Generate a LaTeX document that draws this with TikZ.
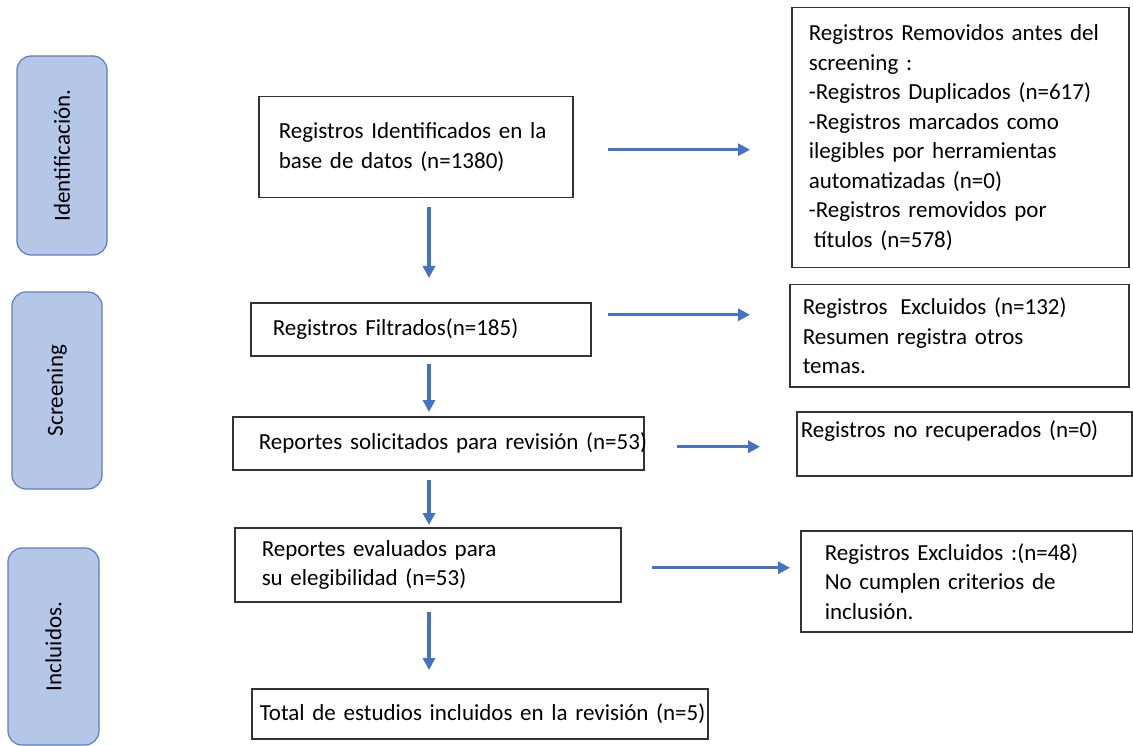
\documentclass[tikz,border=0pt]{standalone}
\usepackage{fontspec}
\setmainfont{Carlito}
\usetikzlibrary{arrows.meta,positioning}
\definecolor{flowblue}{HTML}{4472C4}
\definecolor{phasefill}{HTML}{B4C7E7}
\definecolor{phaseline}{HTML}{5A7EBE}
\tikzset{
  box/.style={draw=black!80, line width=1.5pt, align=left, anchor=north west, inner ysep=0pt,
    font=\fontsize{23}{29.5}\selectfont},
  phase/.style={draw=phaseline, fill=phasefill, line width=1.2pt, rounded corners=14pt, rotate=90,
    inner sep=0pt, font=\fontsize{23}{29.5}\selectfont},
  arr/.style={-{Triangle[length=12pt,width=12pt]}, line width=3.2pt, draw=flowblue}
}

\begin{document}
\begin{tikzpicture}[x=1pt, y=-1pt]
\useasboundingbox (0,0) rectangle (1133,746);
% phases
\node[phase, minimum width=199pt, minimum height=90pt] (idph) at (62,155.5) {Identificación.};
\node[phase, minimum width=197pt, minimum height=90pt] (scrph) at (57,390.5) {Screening};
\node[phase, minimum width=197pt, minimum height=91pt] (incph) at (53.5,646.5) {Incluidos.};
% main flow
\node[box, text width=274pt, inner xsep=20pt, minimum height=101pt] (ident) at (258,96)
  {Registros Identificados en la\\base de datos (n=1380)};
\node[box, text width=296pt, inner xsep=22pt, minimum height=53pt] (filt) at (250,302)
  {Registros Filtrados(n=185)};
\node[box, text width=359pt, inner xsep=26pt, minimum height=53pt] (solic) at (232,416)
  {\mbox{Reportes solicitados para revisión (n=53)}};
\node[box, text width=332pt, inner xsep=27pt, minimum height=74pt] (eval) at (234,527)
  {Reportes evaluados para\\su elegibilidad (n=53)};
\node[box, text width=440pt, inner xsep=8pt, minimum height=50pt] (total) at (251,688)
  {\mbox{Total de estudios incluidos en la revisión (n=5)}};
% exclusions
\node[box, text width=303pt, inner xsep=17pt, minimum height=260pt] (remov) at (791,7)
  {Registros Removidos antes del\\screening :\\-Registros Duplicados (n=617)\\-Registros marcados como\\ilegibles por herramientas\\automatizadas (n=0)\\-Registros removidos por\\\hspace*{5pt}títulos (n=578)};
\node[box, text width=313pt, inner xsep=13pt, minimum height=102pt] (excl1) at (789,284)
  {Registros\hspace{5pt} Excluidos (n=132)\\Resumen registra otros\\temas.};
\node[box, text width=327pt, inner xsep=4pt, minimum height=64pt] (norec) at (796,411)
  {Registros no recuperados (n=0)\\\mbox{}};
\node[box, text width=284pt, inner xsep=24pt, minimum height=101pt] (excl2) at (800,530)
  {Registros Excluidos :(n=48)\\No cumplen criterios de\\inclusión.};
% arrows
\coordinate (axis) at (429,0);
\draw[arr, shorten <=9pt, shorten >=24pt] (ident.south -| axis) -- (filt.north -| axis);
\draw[arr, shorten <=7pt, shorten >=4pt] (filt.south -| axis) -- (solic.north -| axis);
\draw[arr, shorten <=9pt, shorten >=2pt] (solic.south -| axis) -- (eval.north -| axis);
\draw[arr, shorten <=9pt, shorten >=18pt] (eval.south -| axis) -- (total.north -| axis);
\draw[arr, shorten <=34pt, shorten >=41pt] ([yshift=-2.5pt]ident.east) -- ([yshift=-2.5pt]ident.east -| remov.west);
\draw[arr, shorten <=16pt, shorten >=39pt] ([yshift=14.5pt]filt.east) -- ([yshift=14.5pt]filt.east -| excl1.west);
\draw[arr, shorten <=32pt, shorten >=36pt] ([yshift=-3.5pt]solic.east) -- ([yshift=-3.5pt]solic.east -| norec.west);
\draw[arr, shorten <=30pt, shorten >=10pt] ([yshift=-3pt]eval.east) -- ([yshift=-3pt]eval.east -| excl2.west);
\end{tikzpicture}
\end{document}
